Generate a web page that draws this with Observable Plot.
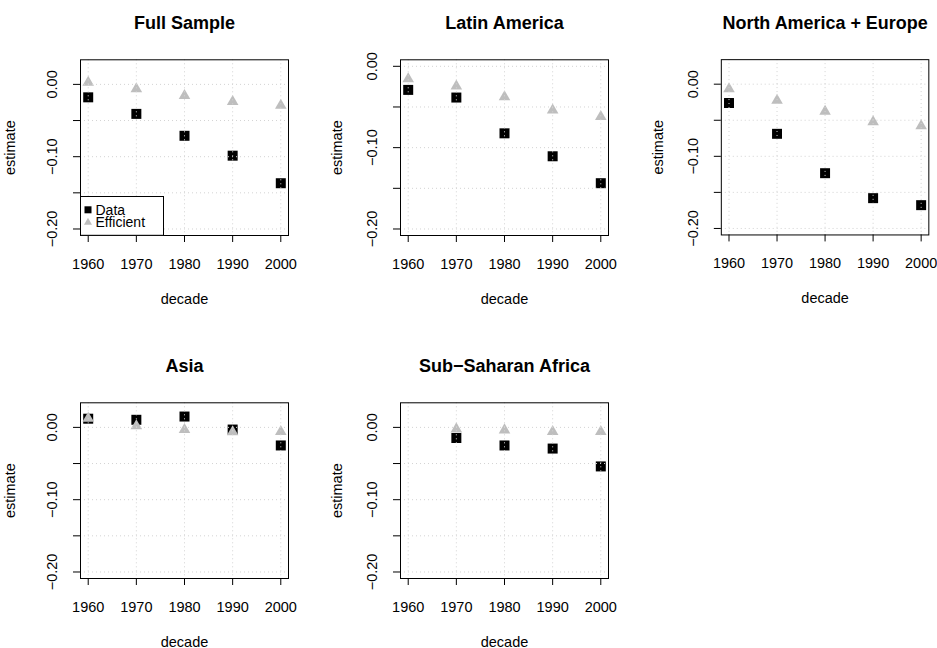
<!DOCTYPE html>
<html><head><meta charset="utf-8">
<script src="https://cdn.jsdelivr.net/npm/d3@7"></script>
<script src="https://cdn.jsdelivr.net/npm/@observablehq/plot@0.6"></script>
<style>
html,body{margin:0;padding:0;background:#fff;}
#chart{position:relative;width:937px;height:648px;overflow:hidden;background:#fff;font-family:"Liberation Sans",Arial,Helvetica,sans-serif;}
.panel{position:absolute;}
</style></head><body><div id="chart"></div>
<script>
// ---- data ----
const decades = [1960, 1970, 1980, 1990, 2000];
const xTickLabels = ["1960", "1970", "1980", "1990", "2000"];
const yTickValues = [-0.20, -0.15, -0.10, -0.05, 0.00];
const yLabelValues = [-0.20, -0.10, 0.00];
const yTickLabels = ["\u22120.20", "\u22120.10", "0.00"];
const regionNames = ["Full Sample", "Latin America", "North America + Europe", "Asia", "Sub\u2212Saharan Africa"];
const seriesNames = ["Data", "Efficient"];

const dataFull  = [-0.0179, -0.0408, -0.0711, -0.0986, -0.1367];
const effFull   = [ 0.0028, -0.0064, -0.0156, -0.0239, -0.0290];
const dataLatin = [-0.0290, -0.0384, -0.0824, -0.1106, -0.1437];
const effLatin  = [-0.0155, -0.0245, -0.0376, -0.0539, -0.0620];
const dataNAE   = [-0.0261, -0.0688, -0.1234, -0.1580, -0.1677];
const effNAE    = [-0.0064, -0.0225, -0.0376, -0.0523, -0.0578];
const dataAsia  = [ 0.0120,  0.0105,  0.0150, -0.0030, -0.0250];
const effAsia   = [ 0.0124,  0.0020, -0.0032, -0.0063, -0.0059];
const dataSSA   = [ null,   -0.0147, -0.0250, -0.0293, -0.0540];
const effSSA    = [ null,   -0.0023, -0.0037, -0.0060, -0.0060];

const dataSeries = [dataFull, dataLatin, dataNAE, dataAsia, dataSSA];
const effSeries  = [effFull, effLatin, effNAE, effAsia, effSSA];

// ---- layout ----
const layouts = [
  {left: 0,     top: 0,     yDomain: [-0.209, 0.034], labelDx: -70},
  {left: 320.3, top: 0,     yDomain: [-0.208, 0.008], labelDx: -63},
  {left: 640.7, top: 0,     yDomain: [-0.209, 0.034], labelDx: -63},
  {left: 0,     top: 343.4, yDomain: [-0.209, 0.034], labelDx: -70},
  {left: 320.3, top: 343.4, yDomain: [-0.209, 0.034], labelDx: -63}
];

const FONT = "'Liberation Sans', Arial, Helvetica, sans-serif";
const FS = 14.5;
const chart = document.getElementById("chart");

function rowsOf(values) {
  const out = [];
  decades.forEach((d, j) => { if (values[j] != null) out.push({decade: d, value: values[j]}); });
  return out;
}

regionNames.forEach((name, i) => {
  const L = layouts[i];
  const plot = Plot.plot({
    width: 297, height: 320,
    marginLeft: 80, marginRight: 9, marginTop: 59.3, marginBottom: 85,
    x: {domain: [1958.4, 2001.6]},
    y: {domain: L.yDomain},
    style: {fontFamily: FONT, fontSize: FS + "px", background: "transparent", color: "black", overflow: "visible"},
    marks: [
      Plot.dot(rowsOf(dataSeries[i]), {x: "decade", y: "value", symbol: "square", r: 5.64, fill: "black"}),
      Plot.dot(rowsOf(effSeries[i]), {x: "decade", y: "value", symbol: "triangle", r: 4.3, fill: "#bebebe"}),
      Plot.ruleX(decades, {x: d => d, stroke: "#d3d3d3", strokeDasharray: "1,3", strokeWidth: 1}),
      Plot.ruleY(yTickValues, {y: d => d, stroke: "#d3d3d3", strokeDasharray: "1,3", strokeWidth: 1}),
      Plot.frame({stroke: "black", strokeWidth: 1}),
      Plot.axisX({ticks: decades, tickSize: 7, tickPadding: 16, tickFormat: d => xTickLabels[decades.indexOf(d)], fontSize: FS, label: null, stroke: "black"}),
      Plot.axisY({ticks: yTickValues, tickSize: 7, tickFormat: () => "", label: null, stroke: "black"}),
      Plot.text(yLabelValues, {y: d => d, text: (d, k) => yTickLabels[k], frameAnchor: "left", dx: -28, rotate: -90, textAnchor: "middle", lineAnchor: "middle", fontSize: FS, fill: "black"}),
      Plot.text([name], {frameAnchor: "top", dy: -36.3, fontSize: 18, fontWeight: "bold", lineAnchor: "middle", fill: "black"}),
      Plot.text(["decade"], {frameAnchor: "bottom", dy: 64, fontSize: FS, lineAnchor: "middle", fill: "black"}),
      Plot.text(["estimate"], {frameAnchor: "left", dx: L.labelDx, rotate: -90, fontSize: FS, lineAnchor: "middle", textAnchor: "middle", fill: "black"})
    ]
  });
  const div = document.createElement("div");
  div.className = "panel";
  div.style.left = L.left + "px";
  div.style.top = L.top + "px";
  div.appendChild(plot);
  chart.appendChild(div);
});

// ---- legend (Full Sample panel) ----
const legend = d3.select(chart).append("svg")
  .attr("width", 84).attr("height", 40)
  .style("position", "absolute").style("left", "79.5px").style("top", "196.2px")
  .style("font-family", FONT).style("font-size", "14px");
legend.append("rect").attr("x", 0.5).attr("y", 0.5).attr("width", 83).attr("height", 38.8)
  .attr("fill", "white").attr("stroke", "black");
legend.append("rect").attr("x", 4.5).attr("y", 10.3).attr("width", 7).attr("height", 7).attr("fill", "black");
legend.append("path").attr("d", d3.symbol(d3.symbolTriangle, 28)()).attr("transform", "translate(8,26.5)").attr("fill", "#bebebe");
legend.selectAll("text.lab").data(seriesNames).join("text").attr("class", "lab")
  .attr("x", 15.5).attr("y", (d, k) => 18.5 + k * 12.8).attr("fill", "black").text(d => d);
</script></body></html>
